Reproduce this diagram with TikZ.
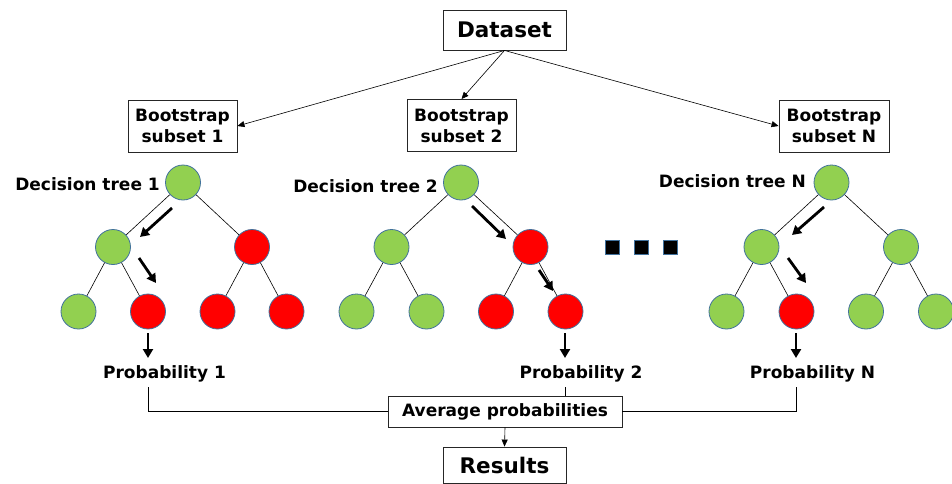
\documentclass[tikz,border=0pt]{standalone}
\usepackage{fontspec}
\setmainfont{DejaVu Sans}
\usetikzlibrary{arrows.meta,calc}
\definecolor{lgreen}{RGB}{146,208,80}
\definecolor{ol}{RGB}{65,113,156}
\begin{document}
\begin{tikzpicture}[x=1pt,y=-1pt,
  box/.style={draw=black!85, line width=0.9pt, inner sep=0pt, align=center,
    font=\bfseries\fontsize{17}{21}\selectfont},
  bigbox/.style={box, font=\bfseries\fontsize{21.5}{24}\selectfont},
  gnode/.style={circle, draw=ol, fill=lgreen, minimum size=35pt, inner sep=0pt, line width=0.8pt},
  rnode/.style={gnode, fill=red},
  edge/.style={line width=0.6pt, draw=black},
  thinarrow/.style={edge, -{Triangle[length=7pt,width=6pt]}},
  bigarrow/.style={line width=2.8pt, -{Triangle[length=9pt,width=10pt]}},
  lab/.style={inner sep=0pt, font=\bfseries\fontsize{17}{20}\selectfont},
  dot/.style={draw=ol, fill=black, minimum size=14pt, inner sep=0pt, line width=0.6pt}
]
\useasboundingbox (0,0) rectangle (952,483);

% top boxes
\node[bigbox, minimum width=123pt, minimum height=40pt] (data) at (504.5,30) {Dataset};
\node[box, minimum width=109pt, minimum height=52pt] (b1) at (182.5,126) {Bootstrap\\subset 1};
\node[box, minimum width=109pt, minimum height=52pt] (b2) at (461.5,125.5) {Bootstrap\\subset 2};
\node[box, minimum width=110pt, minimum height=52pt] (bN) at (834,126) {Bootstrap\\subset N};

\draw[thinarrow] (data.south) -- (b1.east);
\draw[thinarrow] (data.south) -- (b2.north);
\draw[thinarrow] (data.south) -- (bN.west);

% tree 1
\node[gnode] (t1r) at (183,182.5) {};
\node[gnode] (t1a) at (113,247) {};
\node[rnode] (t1b) at (252,247) {};
\node[gnode] (t1aa) at (78.5,311.5) {};
\node[rnode] (t1ab) at (148,311.5) {};
\node[rnode] (t1ba) at (217.5,311.5) {};
\node[rnode] (t1bb) at (286.5,311.5) {};
% tree 2
\node[gnode] (t2r) at (461,182.5) {};
\node[gnode] (t2a) at (391.5,247) {};
\node[rnode] (t2b) at (530.5,247) {};
\node[gnode] (t2aa) at (356.5,311.5) {};
\node[gnode] (t2ab) at (426.5,311.5) {};
\node[rnode] (t2ba) at (496,311.5) {};
\node[rnode] (t2bb) at (565.5,311.5) {};
% tree N
\node[gnode] (tNr) at (831.5,182.5) {};
\node[gnode] (tNa) at (761.5,247) {};
\node[gnode] (tNb) at (901,247) {};
\node[gnode] (tNaa) at (726.5,311.5) {};
\node[rnode] (tNab) at (796.5,311.5) {};
\node[gnode] (tNba) at (866,311.5) {};
\node[gnode] (tNbb) at (936,311.5) {};

\foreach \t in {t1,t2,tN}{
  \draw[edge] (\t r) -- (\t a);
  \draw[edge] (\t r) -- (\t b);
  \draw[edge] (\t a) -- (\t aa);
  \draw[edge] (\t a) -- (\t ab);
  \draw[edge] (\t b) -- (\t ba);
  \draw[edge] (\t b) -- (\t bb);
}

% tree labels
\node[lab, anchor=base east] (l1) at (160,190) {Decision tree 1};
\node[lab, anchor=base east] (l2) at (438,192) {Decision tree 2};
\node[lab, anchor=base east] (lN) at (806,187) {Decision tree N};

% dots
\node[dot] (d1) at (612,247) {};
\node[dot] (d2) at (641,247) {};
\node[dot] (d3) at (670,247) {};

% thick path arrows
\coordinate (a1s) at (172,208); \coordinate (a1e) at (140,237);
\coordinate (a2s) at (139,258); \coordinate (a2e) at (156,283);
\coordinate (a3s) at (148,333); \coordinate (a3e) at (148,358);
\coordinate (b1s) at (472,206); \coordinate (b1e) at (506,239);
\coordinate (b2s) at (539,270); \coordinate (b2e) at (553,291);
\coordinate (b3s) at (565,333); \coordinate (b3e) at (565,358);
\coordinate (c1s) at (824,207); \coordinate (c1e) at (792,235);
\coordinate (c2s) at (788,258); \coordinate (c2e) at (806,283);
\coordinate (c3s) at (796,333); \coordinate (c3e) at (796,358);
\draw[bigarrow] (a1s) -- (a1e);
\draw[bigarrow] (a2s) -- (a2e);
\draw[bigarrow] (a3s) -- (a3e);
\draw[bigarrow] (b1s) -- (b1e);
\draw[bigarrow] (b2s) -- (b2e);
\draw[bigarrow] (b3s) -- (b3e);
\draw[bigarrow] (c1s) -- (c1e);
\draw[bigarrow] (c2s) -- (c2e);
\draw[bigarrow] (c3s) -- (c3e);

% probabilities
\node[lab, anchor=base] (p1) at (164.5,378) {Probability 1};
\node[lab, anchor=base] (p2) at (581,378) {Probability 2};
\node[lab, anchor=base] (pN) at (812.5,378) {Probability N};

\node[box, minimum width=234pt, minimum height=31pt] (avg) at (505,411.5) {Average probabilities};
\node[bigbox, minimum width=123pt, minimum height=36pt] (res) at (504.5,465) {Results};

\coordinate (q1) at (148,387);
\coordinate (q2) at (565,387);
\coordinate (qN) at (796,387);
\draw[edge] (q1) -- (q1 |- avg.west) -- (avg.west);
\draw[edge] (q2) -- (q2 |- avg.north);
\draw[edge] (qN) -- (qN |- avg.east) -- (avg.east);
\draw[thinarrow] (avg.south) -- (res.north);
\end{tikzpicture}
\end{document}
